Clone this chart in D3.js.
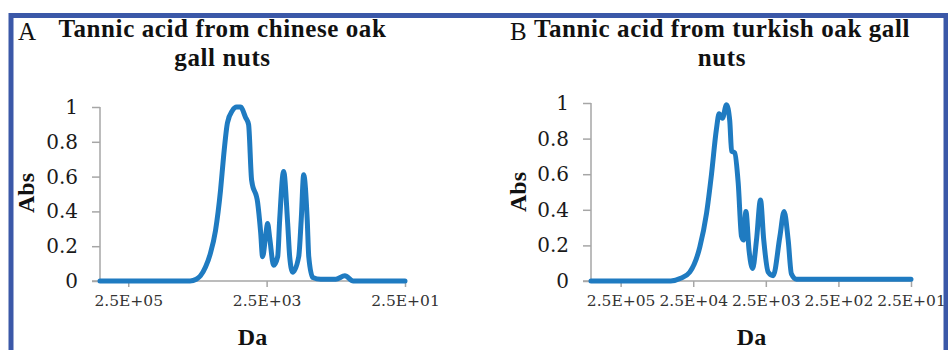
<!DOCTYPE html>
<html>
<head>
<meta charset="utf-8">
<script src="https://cdn.jsdelivr.net/npm/d3@7"></script>
<style>
  body { margin: 0; background: #fff; }
  svg { display: block; }
</style>
</head>
<body>
<div id="chart"></div>
<script>
// molecular weight (Da) and absorbance
var chineseDa  = [640000, 32000, 26000, 22600, 19100, 16200, 13700, 11600, 10500, 9200, 7800, 6800, 5960, 5040, 4560,
                  4120, 3370, 3050, 2860, 2580, 2420, 2260, 1980, 1730, 1620, 1420, 1240, 1160, 1050,
                  859, 791, 728, 647, 615, 538, 412, 250, 185, 140, 25];
var chineseAbs = [0, 0, 0.01, 0.03, 0.08, 0.16, 0.29, 0.52, 0.71, 0.91, 0.98, 1.0, 1.0, 0.94, 0.9,
                  0.58, 0.45, 0.28, 0.14, 0.26, 0.33, 0.25, 0.09, 0.14, 0.35, 0.63, 0.33, 0.14, 0.05,
                  0.14, 0.35, 0.61, 0.35, 0.14, 0.02, 0.01, 0.01, 0.03, 0.0, 0];

var turkishDa  = [640000, 51000, 37200, 27900, 20300, 16400, 14000, 12000, 11000, 9900, 8700, 7850, 7400, 6700, 6000,
                  5400, 5100, 4700, 4250, 3800, 3360, 2960, 2670, 2320, 1980, 1600, 1400, 1230, 1110, 944, 25];
var turkishAbs = [0, 0, 0.015, 0.05, 0.19, 0.38, 0.6, 0.85, 0.94, 0.915, 0.99, 0.9, 0.73, 0.72, 0.55,
                  0.25, 0.23, 0.39, 0.17, 0.07, 0.23, 0.455, 0.23, 0.05, 0.03, 0.25, 0.39, 0.23, 0.04, 0.01, 0.01];

var absTicks = [0, 0.2, 0.4, 0.6, 0.8, 1];
var daTicksA = [2.5e5, 2.5e3, 2.5e1];
var daTicksB = [2.5e5, 2.5e4, 2.5e3, 2.5e2, 2.5e1];

var W = 948, H = 350;

var svg = d3.select("#chart").append("svg")
  .attr("width", W)
  .attr("height", H);

// blue frame round the figure
svg.append("rect")
  .attr("x", 11)
  .attr("y", 15.5)
  .attr("width", 935)
  .attr("height", 400)
  .attr("fill", "none")
  .attr("stroke", "#3b58a8")
  .attr("stroke-width", 5);

function daFormat(d) {
  var e = Math.round(Math.log10(d / 2.5));
  return "2.5E+" + (e < 10 ? "0" : "") + e;
}

function panel(opt) {
  var x = d3.scaleLog()
    .domain([640000, 25])
    .range([opt.left, opt.right]);

  var y = d3.scaleLinear()
    .domain([0, 1])
    .range([281, opt.top]);

  var g = svg.append("g");

  // letter
  g.append("text")
    .attr("x", opt.letterX)
    .attr("y", 40)
    .style("font-family", "Liberation Serif")
    .style("font-size", "25px")
    .style("fill", "#111")
    .text(opt.letter);

  // title, two lines
  var t = g.append("text")
    .attr("text-anchor", "middle")
    .style("font-family", "Liberation Serif")
    .style("font-weight", "bold")
    .style("font-size", "25px")
    .style("letter-spacing", "0.6px")
    .style("fill", "#111");
  t.append("tspan").attr("x", opt.titleX).attr("y", 37).text(opt.title[0]);
  t.append("tspan").attr("x", opt.titleX).attr("y", 66).text(opt.title[1]);

  // y axis
  var yAxis = g.append("g")
    .attr("transform", "translate(" + opt.left + ",0)")
    .call(d3.axisLeft(y).tickValues(absTicks).tickSize(8).tickPadding(14)
      .tickFormat(function(d) { return d; }));
  yAxis.select(".domain").attr("stroke", "#a6a6a6").attr("stroke-width", 1.5)
    .attr("d", "M0," + y(1) + "V" + y(0));
  yAxis.selectAll(".tick line").attr("stroke", "#a6a6a6").attr("stroke-width", 1.5);
  yAxis.selectAll(".tick text")
    .style("font-family", "DejaVu Serif")
    .style("font-size", "20px")
    .style("fill", "#1a1a1a");

  // x axis
  var xAxis = g.append("g")
    .attr("transform", "translate(0,281)")
    .call(d3.axisBottom(x).tickValues(opt.ticks).tickSize(6).tickPadding(8)
      .tickFormat(daFormat));
  xAxis.select(".domain").attr("stroke", "#a6a6a6").attr("stroke-width", 1.5)
    .attr("d", "M" + (opt.left - 8) + ",0H" + opt.right);
  xAxis.selectAll(".tick line").attr("stroke", "#a6a6a6").attr("stroke-width", 1.5);
  xAxis.selectAll(".tick text")
    .style("font-family", "DejaVu Serif")
    .style("font-size", "15.5px")
    .style("fill", "#333");

  // axis titles
  g.append("text")
    .attr("transform", "translate(" + opt.absX + "," + opt.absY + ") rotate(-90)")
    .attr("text-anchor", "middle")
    .style("font-family", "Liberation Serif")
    .style("font-weight", "bold")
    .style("font-size", "24px")
    .style("fill", "#111")
    .text("Abs");

  g.append("text")
    .attr("x", opt.daX)
    .attr("y", 345)
    .attr("text-anchor", "middle")
    .style("font-family", "Liberation Serif")
    .style("font-weight", "bold")
    .style("font-size", "24px")
    .style("fill", "#111")
    .text("Da");

  // profile
  var pts = opt.da.map(function(d, i) { return [d, opt.abs[i]]; });
  var line = d3.line()
    .x(function(d) { return x(d[0]); })
    .y(function(d) { return y(d[1]); })
    .curve(d3.curveMonotoneX);

  g.append("path")
    .datum(pts)
    .attr("fill", "none")
    .attr("stroke", "#1f7bc1")
    .attr("stroke-width", 5)
    .attr("stroke-linejoin", "round")
    .attr("stroke-linecap", "round")
    .attr("d", line);
}

panel({
  letter: "A", letterX: 18,
  title: ["Tannic acid from chinese oak", "gall nuts"], titleX: 222.5,
  left: 100, right: 405, top: 107,
  ticks: daTicksA,
  absX: 34, absY: 193, daX: 252.5,
  da: chineseDa, abs: chineseAbs
});

panel({
  letter: "B", letterX: 510,
  title: ["Tannic acid from turkish oak gall", "nuts"], titleX: 722,
  left: 591, right: 911, top: 103,
  ticks: daTicksB,
  absX: 526, absY: 192, daX: 751.5,
  da: turkishDa, abs: turkishAbs
});
</script>
</body>
</html>
